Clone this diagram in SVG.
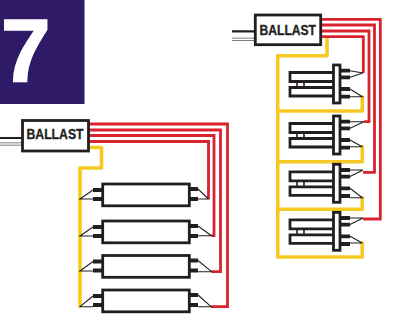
<svg xmlns="http://www.w3.org/2000/svg" width="393" height="328" viewBox="0 0 393 328">
<style>
.red{fill:none;stroke:#d9232e;stroke-width:2.8;stroke-linejoin:miter}
.yel{fill:none;stroke:#f5c923;stroke-width:3.6;stroke-linejoin:round;stroke-linecap:round}
.box{fill:#fff;stroke:#231f20;stroke-width:2.8}
.br{fill:none;stroke:#231f20;stroke-width:1.6}
.pin{stroke:#231f20;stroke-width:3.8;fill:none}
.thin{stroke:#231f20;stroke-width:1.1;fill:none}
.blk{stroke:#231f20;stroke-width:2.2;fill:none}
.wht{stroke:#555;stroke-width:3;fill:none}
.whi{stroke:#fff;stroke-width:1.4;fill:none}
.lbl{font-family:"Liberation Sans",Arial,sans-serif;font-weight:700;font-size:15px;fill:#231f20;stroke:#231f20;stroke-width:.35}
</style>
<defs>
<g id="tube">
<rect class="box" x="102.7" y="0" width="86.6" height="21.8"/>
<path class="pin" d="M93 6H102M93 15H102M189 5H198M189 15H198"/>
</g>
<g id="cfl">
<path class="box" d="M333 7.5H290V16.5H333M333 22.5H290V31H333"/>
<path class="br" d="M297 16.5V22.5M304 16.5V22.5"/>
<rect class="box" x="333.5" y="0" width="6.5" height="38"/>
<path class="pin" d="M340 5.7H350M340 12.3H350M340 24H350M340 31.7H350"/>
</g>
</defs>
<rect id="badge" x="0" y="0" width="84.5" height="104" fill="#2e1a66"/>
<text x="1" y="80.5" font-family="'Liberation Sans',Arial,sans-serif" font-weight="700" font-size="89" fill="#fff" stroke="#fff" stroke-width="1.6">7</text>
<g id="connectors">
<path class="blk" d="M0 138H23M232 31.3H255"/>
<path class="wht" d="M0 144H23M232 39.3H255"/>
<path class="whi" d="M0 144H23M232 39.3H255"/>
<path class="yel" d="M87 147.5H101.5V168H80V306"/>
<path class="red" d="M88 124H227.5V306.7H211"/>
<path class="red" d="M88 130H220.5V271.7H211.5"/>
<path class="red" d="M88 135.5H214V235.7H211.5"/>
<path class="red" d="M88 141.5H208.5V199"/>
<path class="yel" d="M327 38V55.7H277.7V257H362.3V243"/>
<path class="yel" d="M277.7 111H362.3V96.7"/>
<path class="yel" d="M277.7 161.7H362.3V146.7"/>
<path class="yel" d="M277.7 209.3H362.3V197.7"/>
<path class="red" d="M320 19.3H380.3V219H363"/>
<path class="red" d="M320 25H374.5V172.3H363"/>
<path class="red" d="M320 31H369V121.7H364"/>
<path class="red" d="M320 36.7H363.3V73"/>
</g>
<g id="ballast-left">
<rect class="box" x="22.5" y="120.5" width="66" height="30.5"/>
<text class="lbl" x="26.5" y="138.8" textLength="57" lengthAdjust="spacingAndGlyphs">BALLAST</text>
</g>
<g id="ballast-right">
<rect class="box" x="255.3" y="15" width="65.4" height="29.7"/>
<text class="lbl" x="259.5" y="34.5" textLength="56.5" lengthAdjust="spacingAndGlyphs">BALLAST</text>
</g>
<g id="tube-1"><use href="#tube" y="184"/><path class="thin" d="M93 190L80 199H93M198 189L208.5 199H198"/></g>
<g id="tube-2"><use href="#tube" y="221"/><path class="thin" d="M93 227L80 236H93M198 226L211.5 235.7H198"/></g>
<g id="tube-3"><use href="#tube" y="255.5"/><path class="thin" d="M93 261.5L80 271H93M198 260.5L211.5 271.7H198"/></g>
<g id="tube-4"><use href="#tube" y="290"/><path class="thin" d="M93 296L80 306.7H93M198 295L211 306.7H198"/></g>
<g id="cfl-1"><use href="#cfl" y="65"/><path class="thin" d="M350 70.7L363 73L350 77.3M350 89L362.3 96.7H350"/></g>
<g id="cfl-2"><use href="#cfl" y="116"/><path class="thin" d="M350 121.7H364L350 128.3M350 140L362.3 146.7H350"/></g>
<g id="cfl-3"><use href="#cfl" y="164.3"/><path class="thin" d="M350 170H363L350 176.6M350 188.3L362.3 197.7H350"/></g>
<g id="cfl-4"><use href="#cfl" y="212.3"/><path class="thin" d="M350 218H363L350 224.6M350 236.3L362.3 243H350"/></g>
</svg>
